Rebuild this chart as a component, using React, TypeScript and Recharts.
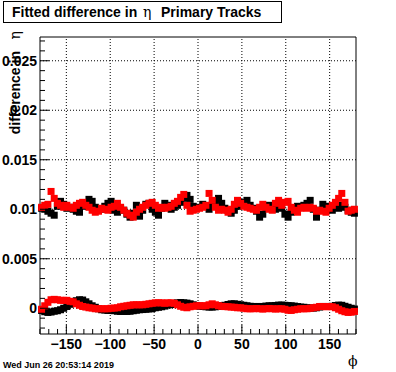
import React from 'react'
import { ScatterChart, Scatter, XAxis, YAxis, ReferenceLine } from 'recharts'

// 100 phi bins, -180..180
const phiBins = Array.from({ length: 100 }, (_, i) => -178.2 + 3.6 * i)

const sigmaBlack = [
  0.0101, 0.0100, 0.0098, 0.0096, 0.0094, 0.0103, 0.0108, 0.0105, 0.0101, 0.0102,
  0.0100, 0.0098, 0.0097, 0.0103, 0.0106, 0.0110, 0.0108, 0.0102, 0.0099, 0.0100,
  0.0103, 0.0106, 0.0108, 0.0099, 0.0097, 0.0101, 0.0099, 0.0095, 0.0092, 0.0096,
  0.0104, 0.0093, 0.0099, 0.0105, 0.0106, 0.0100, 0.0097, 0.0094, 0.0101, 0.0106,
  0.0104, 0.0100, 0.0102, 0.0104, 0.0107, 0.0111, 0.0114, 0.0110, 0.0103, 0.0101,
  0.0102, 0.0105, 0.0103, 0.0100, 0.0104, 0.0108, 0.0111, 0.0106, 0.0101, 0.0099,
  0.0096, 0.0099, 0.0103, 0.0104, 0.0107, 0.0109, 0.0104, 0.0101, 0.0098, 0.0092,
  0.0095, 0.0101, 0.0104, 0.0102, 0.0100, 0.0103, 0.0101, 0.0095, 0.0092, 0.0097,
  0.0101, 0.0103, 0.0102, 0.0104, 0.0106, 0.0109, 0.0100, 0.0092, 0.0099, 0.0105,
  0.0103, 0.0100, 0.0099, 0.0103, 0.0101, 0.0104, 0.0102, 0.0099, 0.0097, 0.0096,
]

const sigmaRed = [
  0.0102, 0.0104, 0.0105, 0.0118, 0.0111, 0.0106, 0.0104, 0.0102, 0.0104, 0.0102,
  0.0101, 0.0104, 0.0106, 0.0107, 0.0104, 0.0102, 0.0099, 0.0097, 0.0098, 0.0101,
  0.0100, 0.0099, 0.0102, 0.0103, 0.0106, 0.0102, 0.0099, 0.0096, 0.0094, 0.0092,
  0.0097, 0.0100, 0.0102, 0.0104, 0.0106, 0.0107, 0.0104, 0.0101, 0.0102, 0.0101,
  0.0102, 0.0103, 0.0106, 0.0108, 0.0112, 0.0115, 0.0104, 0.0098, 0.0099, 0.0100,
  0.0101, 0.0102, 0.0104, 0.0116, 0.0109, 0.0102, 0.0099, 0.0100, 0.0099, 0.0097,
  0.0100, 0.0105, 0.0109, 0.0106, 0.0103, 0.0102, 0.0101, 0.0100, 0.0099, 0.0102,
  0.0105, 0.0102, 0.0100, 0.0099, 0.0106, 0.0109, 0.0104, 0.0107, 0.0108, 0.0102,
  0.0099, 0.0097, 0.0101, 0.0102, 0.0101, 0.0102, 0.0101, 0.0098, 0.0099, 0.0098,
  0.0097, 0.0101, 0.0104, 0.0107, 0.0111, 0.0116, 0.0107, 0.0098, 0.0099, 0.0100,
]

const meanBlack = [
  -0.00022, -0.00035, -0.00042, -0.00038, -0.0003, -0.00025, -0.00015, 0, 0.00018, 0.0004,
  0.00058, 0.00076, 0.00086, 0.00083, 0.00065, 0.00045, 0.00025, 0.0001, -0.00005, -0.00015,
  -0.00018, -0.00022, -0.00022, -0.00025, -0.0003, -0.00032, -0.00032, -0.00032, -0.0003, -0.00025,
  -0.0002, -0.00015, -0.00013, -0.0001, -0.00008, -0.00003, 0.00005, 0.0001, 0.00015, 0.00022,
  0.00032, 0.00038, 0.00045, 0.00055, 0.00058, 0.00055, 0.00052, 0.00045, 0.00035, 0.00028,
  0.00022, 0.00018, 0.00015, 0.00012, 0.00012, 0.00015, 0.0002, 0.00025, 0.0003, 0.00038,
  0.00045, 0.00045, 0.0004, 0.00035, 0.0003, 0.00025, 0.0002, 0.00018, 0.00018, 0.00018,
  0.00018, 0.00022, 0.00025, 0.00025, 0.00028, 0.00032, 0.00032, 0.0003, 0.00027, 0.00025,
  0.00022, 0.00017, 0.00012, 0.0001, 0.00005, 0.00002, 0.00002, 0.00005, 0.00012, 0.00018,
  0.00018, 0.00018, 0.0002, 0.00028, 0.00032, 0.0003, 0.0002, 0.0001, 0, -0.00008,
]

const meanRed = [
  -0.0001, 0.00025, 0.0006, 0.00086, 0.0009, 0.00086, 0.0008, 0.0008, 0.0008, 0.0007,
  0.00065, 0.00045, 0.0003, 0.00018, 0.00012, 0.00005, 0.00002, -0.00005, -0.00005, -0.00005,
  -0.00005, -0.00005, 0, 0.00002, 0.00005, 0.00015, 0.0002, 0.00025, 0.0003, 0.00035,
  0.00035, 0.00035, 0.00035, 0.0004, 0.00045, 0.0005, 0.00055, 0.00055, 0.00055, 0.0005,
  0.00055, 0.00055, 0.0005, 0.00035, 0.0002, 0.0001, 0.00005, 0.00015, 0.0002, 0.00025,
  0.00025, 0.00025, 0.00025, 0.00035, 0.00045, 0.00035, 0.00025, 0.0002, 0.00017, 0.00015,
  0.00012, 0.0001, 0.00005, 0.00005, 0, -0.00005, -0.00005, -0.00005, -0.00002, -0.00005,
  -0.00008, -0.00005, -0.00002, -0.00005, -0.00008, -0.00005, -0.00005, -0.0001, -0.0002, -0.00022,
  -0.00015, -0.0001, -0.00005, -0.00005, -0.00005, 0, 0.00005, 0.0001, 0.00018, 0.00018,
  0.00015, 0.00018, 0.00015, 0.00005, -0.0001, -0.00025, -0.00035, -0.00042, -0.0004, -0.00032,
]

const xMajor = [-150, -100, -50, 0, 50, 100, 150]
const xTicks = Array.from({ length: 37 }, (_, i) => -180 + 10 * i)
const yMajor = [0, 0.005, 0.01, 0.015, 0.02, 0.025]
const yTicks = Array.from({ length: 30 }, (_, i) => (i - 2) / 1000)

const Y_DOMAIN: [number, number] = [-0.0026, 0.0274]
const FONT = '"Liberation Sans", Arial, Helvetica, sans-serif'
const SYM = '"DejaVu Serif", serif'
const PLOT = { left: 40, top: 37, bottom: 334 }

const toPts = (vals: number[]) => vals.map((v, i) => ({ phi: phiBins[i], v }))

const isMajorY = (v: number) => yMajor.some(m => Math.abs(m - v) < 1e-9)

const YTick = (p: any) => {
  const v = p.payload.value
  const major = isMajorY(v)
  const x0 = PLOT.left
  return (
    <g>
      <line x1={x0} x2={x0 + (major ? 9 : 5)} y1={p.y} y2={p.y} stroke="#000" />
      {major && (
        <text x={x0 - 3} y={p.y} dy={5} textAnchor="end" fontFamily={FONT} fontWeight="bold" fontSize={14} fill="#000">
          {String(v)}
        </text>
      )}
    </g>
  )
}

const XTick = (p: any) => {
  const v = p.payload.value
  const major = xMajor.includes(v)
  const y0 = PLOT.bottom
  return (
    <g>
      <line x1={p.x} x2={p.x} y1={y0} y2={y0 - (major ? 9 : 5)} stroke="#000" />
      {major && (
        <text x={p.x} y={y0 + 15} textAnchor="middle" fontFamily={FONT} fontWeight="bold" fontSize={14} fill="#000">
          {v < 0 ? '\u2212' + Math.abs(v) : String(v)}
        </text>
      )}
    </g>
  )
}

const square = (size: number, color: string) => (p: any) =>
  <rect x={p.cx - size / 2} y={p.cy - size / 2} width={size} height={size} fill={color} />

export default function App() {
  return (
    <div style={{ position: 'fixed', left: 0, top: 0, width: 396, height: 372, background: '#fff' }}>
      <ScatterChart width={396} height={372} margin={{ top: 37, right: 40, bottom: 37, left: 39 }}>
        <XAxis dataKey="phi" type="number" domain={[-180, 180]} ticks={xTicks} interval={0}
          height={1} tickSize={0} tickMargin={0} tick={<XTick />} tickLine={false} axisLine={false} />
        <YAxis dataKey="v" type="number" domain={Y_DOMAIN} allowDataOverflow ticks={yTicks} interval={0}
          width={1} tickSize={0} tickMargin={0} tick={<YTick />} tickLine={false} axisLine={false} />
        {xMajor.map(x => <ReferenceLine key={'gx' + x} x={x} stroke="#000" strokeDasharray="1 2" />)}
        {yMajor.map(y => <ReferenceLine key={'gy' + y} y={y} stroke="#000" strokeDasharray="1 2" />)}
        <ReferenceLine x={-180} stroke="#000" />
        <ReferenceLine x={180} stroke="#000" />
        <ReferenceLine y={Y_DOMAIN[0]} stroke="#000" />
        <ReferenceLine y={Y_DOMAIN[1]} stroke="#000" />
        <Scatter data={toPts(sigmaBlack)} shape={square(7, '#000')} isAnimationActive={false} />
        <Scatter data={toPts(sigmaRed)} shape={square(7, '#ff0000')} isAnimationActive={false} />
        <Scatter data={toPts(meanBlack)} shape={square(7, '#000')} isAnimationActive={false} />
        <Scatter data={toPts(meanRed)} shape={square(7, '#ff0000')} isAnimationActive={false} />
      </ScatterChart>
      <svg width={396} height={372} style={{ position: 'absolute', left: 0, top: 0, pointerEvents: 'none' }}>
        <rect x={3.5} y={1.5} width={278} height={21} fill="#fff" stroke="#000" />
        <text y={17} fontFamily={FONT} fontWeight="bold" fontSize={14} fill="#000">
          <tspan x={12}>Fitted difference in</tspan>
          <tspan x={143} fontWeight="normal" fontFamily={SYM}>η</tspan>
          <tspan x={161}>Primary Tracks</tspan>
        </text>
        <text transform="translate(19.5,51) rotate(-90)" textAnchor="end" fontFamily={FONT} fontWeight="bold" fontSize={14} fill="#000">
          difference in
        </text>
        <text transform="translate(19.5,31) rotate(-90)" textAnchor="end" fontFamily={SYM} fontSize={14} fill="#000">η</text>
        <text x={348} y={366} fontFamily={SYM} fontSize={14} fill="#000">ϕ</text>
        <text x={3} y={368} fontFamily={FONT} fontWeight="bold" fontSize={9} fill="#000">Wed Jun 26 20:53:14 2019</text>
      </svg>
    </div>
  )
}
